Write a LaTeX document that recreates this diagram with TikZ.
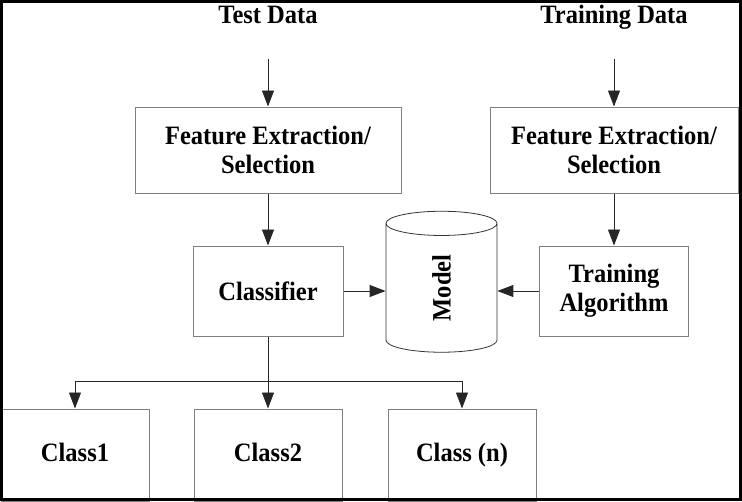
\documentclass[tikz,border=0pt]{standalone}
\usepackage{fontspec}
\setmainfont[FakeStretch=0.925]{Liberation Serif}
\usetikzlibrary{positioning, shapes.geometric, arrows.meta}
\definecolor{edge}{HTML}{7f7f7f}

\begin{document}
\begin{tikzpicture}[x=1pt, y=-1pt,
    font=\bfseries\fontsize{26.5pt}{29pt}\selectfont,
    box/.style={draw=edge, line width=1pt, align=center, inner sep=0pt},
    cls/.style={box, minimum width=148pt, minimum height=92pt, text height=18pt, text depth=6pt},
    flow/.style={-{Triangle[length=16pt, width=12pt]}, line width=0.9pt, black!85}]
  \useasboundingbox (0,0) rectangle (742,501);
  % inputs
  \node[anchor=base] (testin) at (268,23) {Test Data};
  \node[anchor=base] (trainin) at (614,23) {Training Data};
  \coordinate (testtop) at (268,59);
  \coordinate (traintop) at (614,59);
  % feature stage
  \node[box, minimum width=266pt, minimum height=86pt] (fetest) at (268,150) {Feature Extraction/\\Selection};
  \node[box, minimum width=248pt, minimum height=86pt] (fetrain) at (614,150) {Feature Extraction/\\Selection};
  \node[box, minimum width=150pt, minimum height=90pt, below=52pt of fetest] (clf) {Classifier};
  \node[box, minimum width=149pt, minimum height=90pt, below=52pt of fetrain] (talg) {Training\\Algorithm};
  \node[draw=black!80, line width=0.8pt, shape=cylinder, rotate=90, aspect=1.3,
        minimum width=111pt, minimum height=141pt, inner sep=0pt] (model) at (441.5,288) {Model};
  % outputs
  \node[cls] (cls2) at (268,455) {Class2};
  \node[cls, left=44pt of cls2] (cls1) {Class1};
  \node[cls, right=45pt of cls2] (clsn) {Class (n)};
  \coordinate (split) at (268,381);
  \draw[flow] (testtop) -- (fetest);
  \draw[flow] (traintop) -- (fetrain);
  \draw[flow] (fetest) -- (clf);
  \draw[flow] (fetrain) -- (talg);
  \draw[flow] (clf.east) -- (clf.east -| model.north);
  \draw[flow] (talg.west) -- (talg.west -| model.south);
  \draw[flow] (clf) -- (cls2);
  \draw[flow] (split) -| (cls1.north);
  \draw[flow] (split) -| (clsn.north);
  \draw[line width=3pt] (1.5,1.5) rectangle (740.5,499.5);
\end{tikzpicture}
\end{document}
